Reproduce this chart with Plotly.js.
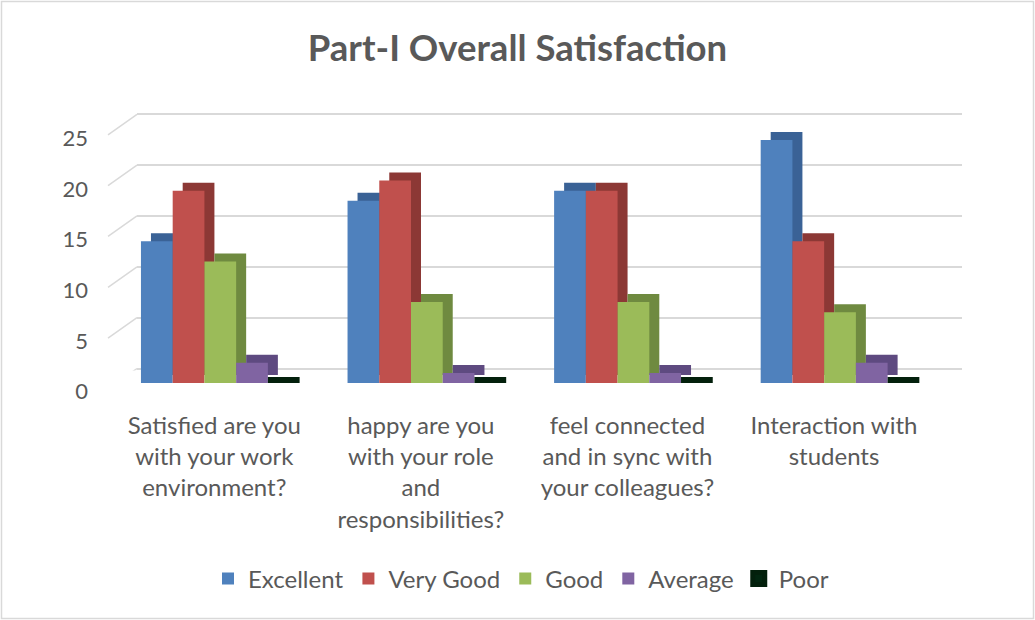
<!DOCTYPE html>
<html><head><meta charset="utf-8">
<script src="https://cdn.plot.ly/plotly-3.0.1.min.js"></script>
<style>html,body{margin:0;padding:0;background:#fff}</style>
</head><body><div id="chart" style="width:1035px;height:620px"></div>
<script>
const categories = ["Satisfied are you<br>with your work<br>environment?", "happy are you<br>with your role<br>and<br>responsibilities?", "feel connected<br>and in sync with<br>your colleagues?", "Interaction with<br>students"];
const seriesNames = ["Excellent", "Very Good", "Good", "Average", "Poor"];
const excellent = [14, 18, 19, 24];
const veryGood = [19, 20, 19, 14];
const good = [12, 8, 8, 7];
const average = [2, 1, 1, 2];
const poor = [0, 0, 0, 0];
const yTicks = [0, 5, 10, 15, 20, 25];

const seriesValues = [excellent, veryGood, good, average, poor];
const frontColors = ["#4F81BD", "#C0504D", "#9BBB59", "#8064A2", "#022610"];
const sideColors = ["#3A6296", "#8C3835", "#6F8A40", "#5E4A80", "#03200C"];

const W = 1035, H = 620;
const px = x => x / W;
const py = y => 1 - y / H;
const FONT = "Lato, 'Open Sans', sans-serif";
const GREY = "#595959";

const traces = [];
// depth (side/top faces) on x2/y2
seriesValues.forEach((vals, i) => {
  traces.push({type: "bar", x: categories, y: vals, xaxis: "x2", yaxis: "y2",
    marker: {color: sideColors[i]}, showlegend: false, hoverinfo: "skip", name: seriesNames[i] + " depth"});
});
// front faces on x3/y3 (zero-height bars keep a thick outline so the flat block shows)
seriesValues.forEach((vals, i) => {
  traces.push({type: "bar", x: categories, y: vals, xaxis: "x3", yaxis: "y3",
    marker: {color: frontColors[i], line: {color: sideColors[i], width: i === 4 ? 12 : 0}},
    name: seriesNames[i]});
});
// empty trace so the value-label axis pair is drawn
traces.push({type: "scatter", x: [], y: [], xaxis: "x4", yaxis: "y4", showlegend: false, hoverinfo: "skip"});

const shapes = yTicks.map(v => ({
  type: "line", xref: "paper", xsizemode: "pixel", xanchor: 0, x0: 108, x1: 137,
  yref: "y", ysizemode: "pixel", yanchor: v, y0: -20.5, y1: 0,
  line: {color: "#d9d9d9", width: 1.5}, layer: "below"
}));
shapes.push({type: "rect", xref: "paper", yref: "paper", x0: px(1.5), x1: px(1033.5), y0: py(618.5), y1: py(1.5),
  line: {color: "#d9d9d9", width: 1.5}, fillcolor: "rgba(0,0,0,0)"});

const layout = {
  width: W, height: H,
  margin: {l: 0, r: 0, t: 0, b: 0},
  paper_bgcolor: "#ffffff", plot_bgcolor: "rgba(0,0,0,0)",
  font: {family: FONT, color: GREY},
  title: {text: "<b>Part-I Overall Satisfaction</b>", x: 0.5, xref: "paper", xanchor: "center",
    y: py(48), yref: "paper", yanchor: "middle", font: {family: FONT, size: 36.5, color: GREY}},
  barmode: "group", bargap: 0.232, bargroupgap: 0,
  showlegend: true,
  legend: {orientation: "h", x: px(208), xanchor: "left", y: py(579), yanchor: "middle",
    font: {family: FONT, size: 24, color: GREY}, traceorder: "normal"},
  xaxis: {domain: [px(137), px(962)], range: [0, 1], anchor: "y", showgrid: false, zeroline: false,
    showticklabels: false, ticks: "", fixedrange: true},
  yaxis: {domain: [py(370.53), py(112.27)], range: [-0.2, 25.2], anchor: "x", tickvals: yTicks,
    showgrid: true, gridcolor: "#d9d9d9", gridwidth: 2, zeroline: false, showticklabels: false, ticks: ""},
  xaxis2: {domain: [px(127), px(953.3)], type: "category", range: [-0.5, 3.5], anchor: "y2", visible: false},
  yaxis2: {domain: [py(375), py(122)], range: [0, 25], anchor: "x2", visible: false},
  xaxis3: {domain: [px(117), px(943.3)], type: "category", range: [-0.5, 3.5], anchor: "y3",
    showgrid: false, zeroline: false, showline: false, ticks: "",
    tickfont: {family: FONT, size: 24, color: GREY}, ticklabelstandoff: 26, ticklabelshift: -6},
  yaxis3: {domain: [py(383), py(130)], range: [0, 25], anchor: "x3", visible: false},
  // value labels, aligned with the front ends of the side-wall lines
  xaxis4: {domain: [px(117), px(943.3)], range: [0, 1], anchor: "y4", showgrid: false, zeroline: false,
    showticklabels: false, ticks: "", showline: false},
  yaxis4: {domain: [py(391.7), py(138.3)], range: [0, 25], anchor: "x4", tickvals: yTicks,
    showgrid: false, zeroline: false, showline: false, ticks: "",
    tickfont: {family: FONT, size: 22, color: GREY}, ticklabelstandoff: 28},
  shapes: shapes
};

Plotly.newPlot("chart", traces, layout, {displayModeBar: false, staticPlot: true});
</script>
</body></html>
